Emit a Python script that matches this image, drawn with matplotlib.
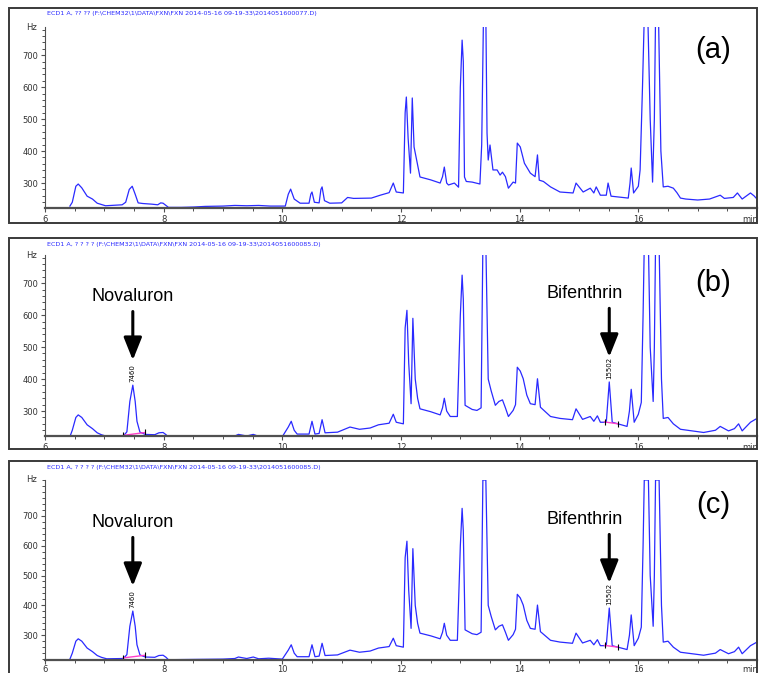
import matplotlib
matplotlib.use('Agg')
import matplotlib.pyplot as plt
from matplotlib.patches import Rectangle
from matplotlib.ticker import MultipleLocator

W, H = 759, 673

# chromatogram (a): retention time (min) and detector signal (Hz)
time_a = [6.42, 6.46, 6.52, 6.56, 6.62, 6.71, 6.8, 6.88, 6.95, 7.02, 7.3, 7.36, 7.42, 7.47,
          7.52, 7.57, 7.65, 7.8, 7.9, 7.95, 7.99, 8.04, 8.08, 8.3, 8.5, 8.7, 9.0, 9.2, 9.4,
          9.6, 9.8, 10.05, 10.1, 10.14, 10.2, 10.3, 10.45, 10.48, 10.5, 10.54, 10.62, 10.65,
          10.67, 10.71, 10.8, 11.0, 11.1, 11.2, 11.5, 11.65, 11.8, 11.87, 11.92, 12.04, 12.07,
          12.09, 12.12, 12.16, 12.19, 12.22, 12.27, 12.32, 12.5, 12.66, 12.7, 12.73, 12.77,
          12.8, 12.9, 12.97, 13.0, 13.03, 13.05, 13.07, 13.1, 13.2, 13.33, 13.36, 13.39, 13.43,
          13.45, 13.47, 13.5, 13.55, 13.62, 13.67, 13.71, 13.76, 13.81, 13.89, 13.93, 13.96,
          14.01, 14.08, 14.18, 14.26, 14.3, 14.33, 14.4, 14.52, 14.68, 14.9, 14.95, 15.07,
          15.19, 15.25, 15.29, 15.36, 15.46, 15.49, 15.54, 15.83, 15.86, 15.88, 15.92, 16.0,
          16.03, 16.07, 16.1, 16.16, 16.2, 16.24, 16.27, 16.29, 16.34, 16.38, 16.42, 16.5,
          16.59, 16.65, 16.71, 16.8, 17.0, 17.2, 17.38, 17.45, 17.6, 17.67, 17.75, 17.89,
          17.95, 18.0]
sig_a = [228, 240, 290, 297, 285, 259, 250, 237, 233, 229, 232, 240, 280, 290,
         265, 238, 236, 234, 232, 238, 237, 230, 224, 224, 225, 227, 228, 230, 229,
         230, 228, 228, 265, 281, 250, 237, 237, 265, 272, 240, 238, 280,
         288, 245, 237, 238, 255, 252, 253, 262, 270, 300, 272, 269, 520,
         569, 440, 331, 566, 413, 366, 319, 310, 300, 320, 350, 300,
         294, 300, 287, 600, 747, 680, 319, 305, 303, 297, 420, 820, 820,
         456, 372, 419, 341, 341, 325, 334, 320, 284, 303, 300, 425,
         413, 362, 331, 320, 388, 309, 305, 288, 272, 269, 300, 272,
         284, 269, 288, 262, 262, 300, 259, 253, 300, 347, 269, 290,
         341, 600, 820, 820, 500, 303, 500, 820, 820, 400, 288, 290,
         284, 270, 253, 250, 247, 250, 262, 252, 255, 269, 250, 269,
         260, 250]

# chromatograms (b) and (c): spiked sample
time_bc = [6.42, 6.46, 6.52, 6.56, 6.62, 6.71, 6.8, 6.88, 6.95, 7.04, 7.32, 7.38, 7.43, 7.48,
           7.52, 7.55, 7.6, 7.69, 7.85, 7.92, 7.99, 8.04, 8.08, 8.5, 9.0, 9.2, 9.26, 9.4, 9.51,
           9.6, 9.77, 10.0, 10.1, 10.15, 10.2, 10.25, 10.45, 10.5, 10.55, 10.62, 10.67, 10.72,
           10.93, 11.14, 11.3, 11.48, 11.62, 11.8, 11.87, 11.92, 12.04, 12.07, 12.1, 12.13,
           12.17, 12.2, 12.24, 12.28, 12.32, 12.5, 12.66, 12.7, 12.73, 12.77, 12.83, 12.95,
           13.0, 13.03, 13.05, 13.08, 13.2, 13.28, 13.35, 13.38, 13.43, 13.47, 13.52, 13.59,
           13.65, 13.71, 13.76, 13.81, 13.89, 13.93, 13.96, 14.01, 14.06, 14.12, 14.18, 14.26,
           14.3, 14.35, 14.42, 14.52, 14.68, 14.89, 14.95, 15.06, 15.19, 15.25, 15.31, 15.36,
           15.46, 15.51, 15.56, 15.81, 15.85, 15.88, 15.93, 16.0, 16.05, 16.08, 16.1, 16.17,
           16.2, 16.25, 16.27, 16.29, 16.35, 16.39, 16.42, 16.5, 16.59, 16.71, 16.9, 17.1,
           17.3, 17.38, 17.52, 17.62, 17.69, 17.75, 17.89, 18.0]
sig_bc = [220, 240, 280, 288, 280, 257, 245, 232, 226, 221, 222, 235, 330, 381,
          330, 268, 234, 227, 226, 232, 233, 226, 218, 219, 220, 222, 227, 222, 227,
          221, 223, 220, 250, 268, 240, 228, 228, 268, 228, 230, 273, 232,
          234, 250, 243, 247, 257, 262, 290, 265, 260, 560, 615, 450,
          323, 590, 400, 340, 307, 298, 288, 310, 340, 300, 283, 283,
          600, 725, 650, 318, 305, 302, 310, 820, 820, 400, 363, 318,
          330, 335, 310, 283, 302, 320, 437, 425, 401, 350, 323, 320,
          401, 312, 300, 283, 277, 273, 307, 274, 283, 268, 285, 265,
          265, 391, 265, 252, 300, 368, 265, 290, 327, 600, 820, 820,
          500, 330, 500, 820, 820, 400, 277, 280, 260, 243, 238, 233,
          240, 252, 238, 245, 260, 238, 265, 277]

headers = [
    'ECD1 A, ?? ?? (F:\\CHEM32\\1\\DATA\\FXN\\FXN 2014-05-16 09-19-33\\2014051600077.D)',
    'ECD1 A, ? ? ? ? (F:\\CHEM32\\1\\DATA\\FXN\\FXN 2014-05-16 09-19-33\\2014051600085.D)',
    'ECD1 A, ? ? ? ? (F:\\CHEM32\\1\\DATA\\FXN\\FXN 2014-05-16 09-19-33\\2014051600085.D)',
]
panel_labels = ['(a)', '(b)', '(c)']
x_ticks = [6, 8, 10, 12, 14, 16]
y_ticks = [300, 400, 500, 600, 700]

# identified peaks in (b) and (c)
peak_names = ['Novaluron', 'Bifenthrin']
peak_times = [7.48, 15.51]
peak_heights = [381, 391]
peak_areas = ['7460', '15502']
base_times = [[7.32, 7.69], [15.43, 15.66]]
base_sigs = [[224, 233], [266, 260]]

# layout in pixels: outer frame (top, bottom), plot area (top, bottom)
frames = [(8, 223), (238, 449), (461, 676)]
inner = [(27, 208), (255, 436), (480, 660)]
ylims = [(222, 788), (222, 788), (217, 820)]
label_y = [50, 283, 505]
tick_pad = [2, 2, 0.5]

fig = plt.figure(figsize=(W / 100, H / 100), dpi=100)
blue = '#2a2aff'
grey = '#505050'

for i in range(3):
    ft, fb = frames[i]
    fig.add_artist(Rectangle((9 / W, 1 - fb / H), (757 - 9) / W, (fb - ft) / H,
                             transform=fig.transFigure, fill=False, ec='#3a3a3a', lw=1.4))
    it, ib = inner[i]
    ax = fig.add_axes([45 / W, 1 - ib / H, (757 - 45) / W, (ib - it) / H])
    ax.patch.set_alpha(0)
    if i == 0:
        ax.plot(time_a, sig_a, color=blue, lw=0.9)
    else:
        ax.plot(time_bc, sig_bc, color=blue, lw=0.9)
        for k in range(2):
            ax.plot(base_times[k], base_sigs[k], color='#ff3fc8', lw=1.0, marker='|',
                    mec='black', ms=4, mew=0.8)
            ax.annotate(peak_areas[k], xy=(peak_times[k], peak_heights[k]), xytext=(0, 2),
                        textcoords='offset points', rotation=90, ha='center', va='bottom',
                        fontsize=5)
            ax.annotate('', xy=(peak_times[k], peak_heights[k]), xytext=(0, 53),
                        textcoords='offset points',
                        arrowprops=dict(arrowstyle='-|>,head_length=0.55,head_width=0.22',
                                        color='black', lw=2.2, mutation_scale=25,
                                        shrinkA=0, shrinkB=18))
            ax.annotate(peak_names[k], xy=(peak_times[k], peak_heights[k]),
                        xytext=(-18 * k, 64), textcoords='offset points', ha='center',
                        va='center', fontsize=13, family='Liberation Sans')
    ax.set_xlim(6, 18)
    ax.set_ylim(*ylims[i])
    for s in ['top', 'right']:
        ax.spines[s].set_visible(False)
    ax.spines['left'].set_color(grey)
    ax.spines['left'].set_linewidth(0.8)
    ax.spines['bottom'].set_color(grey)
    ax.spines['bottom'].set_linewidth(1.6)
    ax.set_xticks(x_ticks)
    ax.set_yticks(y_ticks)
    ax.xaxis.set_minor_locator(MultipleLocator(0.5))
    ax.yaxis.set_minor_locator(MultipleLocator(20))
    ax.tick_params(axis='both', which='major', length=3, width=0.8, color=grey,
                   labelsize=6, labelcolor='#333333', pad=2)
    ax.tick_params(axis='x', which='major', pad=tick_pad[i])
    ax.tick_params(axis='both', which='minor', length=2, width=0.7, color=grey)
    ax.text(-0.012, 1.0, 'Hz', transform=ax.transAxes, ha='right', va='center',
            fontsize=6, color='#333333')
    ax.annotate('min', xy=(0.99, 0), xycoords='axes fraction', xytext=(0, -3 - tick_pad[i]),
                textcoords='offset points', ha='center', va='top', fontsize=6,
                color='#333333')
    fig.text(47 / W, 1 - (ft + 6) / H, headers[i], color=blue, fontsize=4.6, va='center')
    fig.text(713 / W, 1 - label_y[i] / H, panel_labels[i], fontsize=21, ha='center',
             va='center', family='Liberation Sans')

fig.savefig('out.png', dpi=100)
